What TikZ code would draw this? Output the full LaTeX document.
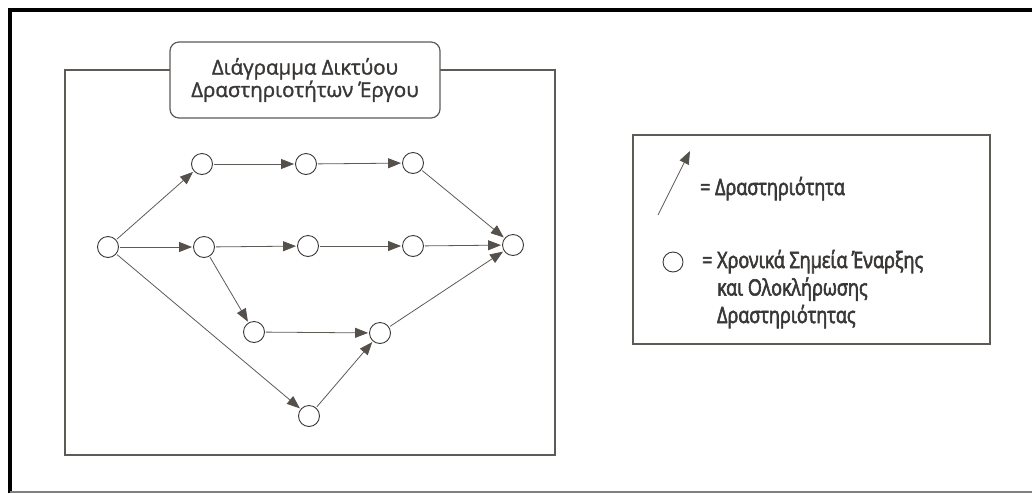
\documentclass[tikz,border=0pt]{standalone}
\usepackage{fontspec}
\setmainfont{Open Sans}
\newfontfamily\keyfont{Open Sans}[FakeBold=2.6, FakeStretch=0.8]
\newfontfamily\headfont{Open Sans}[FakeBold=1.4]
\usetikzlibrary{arrows.meta}

\definecolor{ink}{HTML}{3A3836}
\definecolor{edge}{HTML}{5E5A56}
\definecolor{tip}{HTML}{56504B}

\tikzset{
    event/.style={circle, draw=ink, line width=0.9pt, minimum size=21pt, inner sep=0pt},
    activity/.style={draw=edge, line width=0.8pt, -{Triangle[length=13pt,width=10pt,color=tip]}, shorten >=1pt, shorten <=1pt},
    frame/.style={draw=edge, line width=1.2pt},
}

\begin{document}
\begin{tikzpicture}[x=1pt, y=-1pt, font=\keyfont\fontsize{22.5}{27.5}\selectfont, text=ink]
    \useasboundingbox (0,0) rectangle (1032,493);

    % outer border
    \draw[black, line width=4pt] (10,493) -- (10,9.5) -- (1032,9.5);
    \draw[gray, line width=2pt] (10,491.5) -- (1032,491.5);

    % network box and its title
    \draw[frame] (65,70) rectangle (555,455);
    \node[frame, fill=white, rounded corners=9pt, minimum width=270pt, minimum height=76pt,
          align=center, font=\headfont\fontsize{20.5}{21}\selectfont] (title) at (305,80)
          {Διάγραμμα Δικτύου\\Δραστηριοτήτων Έργου};

    % events
    \node[event] (a) at (108,247) {};
    \node[event] (b) at (202,164) {};
    \node[event] (c) at (306,164) {};
    \node[event] (d) at (413,163) {};
    \node[event] (e) at (204,247) {};
    \node[event] (f) at (308,246) {};
    \node[event] (g) at (413,246) {};
    \node[event] (h) at (513,245) {};
    \node[event] (i) at (254,332) {};
    \node[event] (j) at (380,333) {};
    \node[event] (k) at (309,416) {};

    % activities
    \draw[activity] (a) -- (b);
    \draw[activity] (b) -- (c);
    \draw[activity] (c) -- (d);
    \draw[activity] (d) -- (h);
    \draw[activity] (a) -- (e);
    \draw[activity] (e) -- (f);
    \draw[activity] (f) -- (g);
    \draw[activity] (g) -- (h);
    \draw[activity] (e) -- (i);
    \draw[activity] (i) -- (j);
    \draw[activity] (j) -- (h);
    \draw[activity] (a) -- (k);
    \draw[activity] (k) -- (j);

    % legend
    \draw[frame] (633,135) rectangle (990,344);
    \coordinate (arrowfoot) at (658,215);
    \coordinate (arrowtip) at (690,151);
    \draw[activity, shorten >=0pt, shorten <=0pt] (arrowfoot) -- (arrowtip);
    \node[anchor=base west, inner sep=0pt] (actlabel) at (700,195) {= Δραστηριότητα};

    % base of a multi-line node is its last line
    \node[event, minimum size=20pt] (eventkey) at (673,262) {};
    \node[anchor=base west, align=left, inner sep=0pt] (eventlabel) at (702,323)
        {= Χρονικά Σημεία Έναρξης\\
         \hphantom{= }και Ολοκλήρωσης\\
         \hphantom{= }Δραστηριότητας};
\end{tikzpicture}
\end{document}
